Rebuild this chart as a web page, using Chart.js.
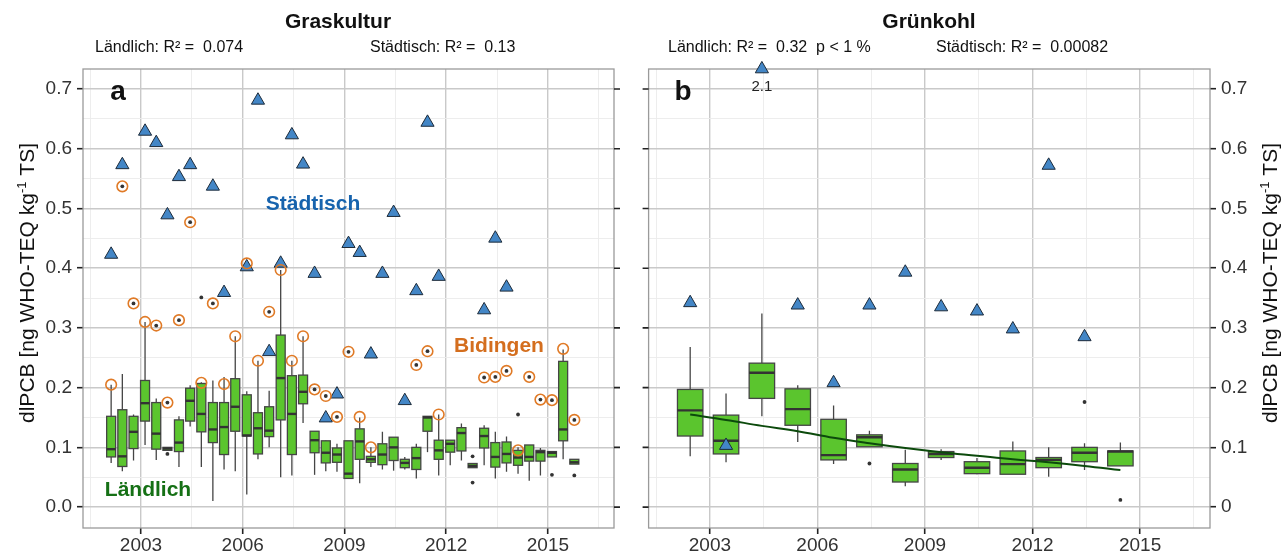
<!DOCTYPE html>
<html>
<head>
<meta charset="utf-8">
<script src="https://cdn.jsdelivr.net/npm/chart.js@4.4.1/dist/chart.umd.min.js"></script>
<style>
  html, body { margin: 0; padding: 0; background: #fff; }
  #wrap { position: relative; width: 1285px; height: 556px; }
  #cGras { position: absolute; left: 0; top: 0; width: 640px; height: 556px; }
  #cKohl { position: absolute; left: 640px; top: 0; width: 645px; height: 556px; }
</style>
</head>
<body>
<div id="wrap">
  <canvas id="cGras" width="640" height="556"></canvas>
  <canvas id="cKohl" width="645" height="556"></canvas>
</div>
<script>
// dlPCB in Graskultur (a) und Grünkohl (b)
const FONT = "'Liberation Sans', Arial, sans-serif";

const Y_MIN = -0.035, Y_MAX = 0.7335;
const X_MIN = 2001.29, X_MAX = 2016.95;

const xTickVals = [2001.5, 2003, 2004.5, 2006, 2007.5, 2009, 2010.5, 2012, 2013.5, 2015, 2016.5];
const xTickLabels = ['', '2003', '', '2006', '', '2009', '', '2012', '', '2015', ''];
const yTickVals = [0, 0.05, 0.1, 0.15, 0.2, 0.25, 0.3, 0.35, 0.4, 0.45, 0.5, 0.55, 0.6, 0.65, 0.7];
const yLabelsGras = ['0.0', '', '0.1', '', '0.2', '', '0.3', '', '0.4', '', '0.5', '', '0.6', '', '0.7'];
const yLabelsKohl = ['0', '', '0.1', '', '0.2', '', '0.3', '', '0.4', '', '0.5', '', '0.6', '', '0.7'];

// --- Graskultur: Ländlich (Boxplots je Drittel-Jahr)
const grasPos = [2002.12, 2002.45, 2002.78, 2003.12, 2003.45, 2003.78, 2004.12, 2004.45, 2004.78,
  2005.12, 2005.45, 2005.78, 2006.12, 2006.45, 2006.78, 2007.12, 2007.45, 2007.78,
  2008.12, 2008.45, 2008.78, 2009.12, 2009.45, 2009.78, 2010.12, 2010.45, 2010.78,
  2011.12, 2011.45, 2011.78, 2012.12, 2012.45, 2012.78, 2013.12, 2013.45, 2013.78,
  2014.12, 2014.45, 2014.78, 2015.12, 2015.45, 2015.78];
const grasLow = [0.074, 0.060, 0.078, 0.104, 0.079, 0.095, 0.067, 0.135, 0.067, 0.010, 0.063, 0.060, 0.021, 0.080,
  0.100, 0.050, 0.053, 0.141, 0.054, 0.060, 0.059, 0.048, 0.040, 0.067, 0.063, 0.061, 0.063, 0.048,
  0.092, 0.053, 0.070, 0.078, 0.066, 0.070, 0.048, 0.059, 0.056, 0.044, 0.053, 0.084, 0.080, 0.072];
const grasQ1 = [0.084, 0.068, 0.098, 0.144, 0.097, 0.095, 0.093, 0.144, 0.126, 0.108, 0.088, 0.127, 0.119, 0.089,
  0.118, 0.146, 0.088, 0.173, 0.091, 0.074, 0.075, 0.048, 0.080, 0.075, 0.071, 0.078, 0.066, 0.063,
  0.127, 0.080, 0.092, 0.094, 0.066, 0.099, 0.067, 0.074, 0.070, 0.077, 0.077, 0.084, 0.111, 0.072];
const grasMed = [0.097, 0.085, 0.126, 0.174, 0.123, 0.098, 0.108, 0.178, 0.156, 0.130, 0.134, 0.168, 0.120, 0.132,
  0.128, 0.216, 0.156, 0.193, 0.112, 0.091, 0.088, 0.056, 0.110, 0.080, 0.088, 0.100, 0.074, 0.082,
  0.150, 0.095, 0.106, 0.124, 0.069, 0.119, 0.084, 0.089, 0.083, 0.084, 0.092, 0.091, 0.130, 0.075];
const grasQ3 = [0.152, 0.163, 0.152, 0.212, 0.175, 0.100, 0.146, 0.199, 0.207, 0.175, 0.175, 0.215, 0.188, 0.158,
  0.168, 0.288, 0.220, 0.221, 0.127, 0.111, 0.099, 0.111, 0.131, 0.085, 0.106, 0.117, 0.080, 0.100,
  0.152, 0.112, 0.112, 0.133, 0.073, 0.132, 0.108, 0.109, 0.095, 0.104, 0.095, 0.093, 0.244, 0.080];
const grasHigh = [0.205, 0.223, 0.155, 0.310, 0.182, 0.100, 0.152, 0.204, 0.209, 0.212, 0.218, 0.286, 0.194, 0.245,
  0.195, 0.397, 0.245, 0.286, 0.127, 0.112, 0.106, 0.111, 0.150, 0.100, 0.126, 0.117, 0.084, 0.106,
  0.152, 0.155, 0.112, 0.140, 0.073, 0.137, 0.126, 0.118, 0.100, 0.104, 0.099, 0.093, 0.264, 0.080];

// Graskultur: Städtisch (Dreiecke)
const grasStadtX = [2002.12, 2002.45, 2003.12, 2003.45, 2003.78, 2004.12, 2004.45, 2005.12, 2005.45, 2006.12,
  2006.45, 2006.78, 2007.12, 2007.45, 2007.78, 2008.12, 2008.45, 2008.78, 2009.12, 2009.45,
  2009.78, 2010.12, 2010.45, 2010.78, 2011.12, 2011.45, 2011.78, 2013.12, 2013.45, 2013.78];
const grasStadtY = [0.423, 0.573, 0.629, 0.610, 0.489, 0.553, 0.573, 0.537, 0.359, 0.402,
  0.681, 0.260, 0.408, 0.623, 0.574, 0.391, 0.149, 0.189, 0.441, 0.426,
  0.256, 0.391, 0.493, 0.178, 0.362, 0.644, 0.386, 0.330, 0.450, 0.368];

// Graskultur: Bidingen (Kreise)
const grasBidX = [2002.12, 2002.45, 2002.78, 2003.12, 2003.45, 2003.78, 2004.12, 2004.45, 2004.78, 2005.12,
  2005.45, 2005.78, 2006.12, 2006.45, 2006.78, 2007.12, 2007.45, 2007.78, 2008.12, 2008.45,
  2008.78, 2009.12, 2009.45, 2009.78, 2011.12, 2011.45, 2011.78, 2013.12, 2013.45, 2013.78,
  2014.12, 2014.45, 2014.78, 2015.12, 2015.45, 2015.78];
const grasBidY = [0.205, 0.537, 0.341, 0.310, 0.304, 0.175, 0.313, 0.477, 0.208, 0.341,
  0.206, 0.286, 0.408, 0.245, 0.327, 0.397, 0.245, 0.286, 0.197, 0.186,
  0.151, 0.260, 0.151, 0.100, 0.238, 0.261, 0.155, 0.217, 0.218, 0.228,
  0.095, 0.218, 0.180, 0.179, 0.265, 0.146];

// Graskultur: Einzelwerte / Ausreißer (Punkte)
const grasDotX = [2002.45, 2002.78, 2003.45, 2003.78, 2004.12, 2004.45, 2005.12, 2006.78, 2008.12, 2008.45,
  2008.78, 2009.12, 2011.12, 2011.45, 2013.12, 2013.45, 2013.78, 2014.45, 2014.78, 2015.12,
  2015.78, 2003.78, 2004.78, 2012.78, 2012.78, 2014.12, 2015.12, 2015.78];
const grasDotY = [0.537, 0.341, 0.304, 0.175, 0.313, 0.477, 0.341, 0.327, 0.197, 0.186,
  0.151, 0.260, 0.238, 0.261, 0.217, 0.218, 0.228, 0.218, 0.180, 0.179,
  0.146, 0.089, 0.351, 0.085, 0.041, 0.155, 0.054, 0.053];

// --- Grünkohl: Ländlich (Boxplots je Jahr)
const kohlPos = [2002.45, 2003.45, 2004.45, 2005.45, 2006.45, 2007.45, 2008.45, 2009.45, 2010.45, 2011.45,
  2012.45, 2013.45, 2014.45];
const kohlLow = [0.085, 0.075, 0.152, 0.109, 0.072, 0.101, 0.035, 0.079, 0.055, 0.055, 0.051, 0.062, 0.069];
const kohlQ1 = [0.119, 0.089, 0.182, 0.137, 0.079, 0.101, 0.042, 0.083, 0.056, 0.055, 0.066, 0.076, 0.069];
const kohlMed = [0.162, 0.111, 0.225, 0.164, 0.087, 0.117, 0.063, 0.089, 0.066, 0.072, 0.079, 0.091, 0.093];
const kohlQ3 = [0.197, 0.154, 0.241, 0.198, 0.147, 0.121, 0.073, 0.093, 0.076, 0.094, 0.083, 0.100, 0.094];
const kohlHigh = [0.268, 0.190, 0.324, 0.204, 0.170, 0.128, 0.096, 0.097, 0.082, 0.110, 0.100, 0.107, 0.108];
const kohlTrend = [0.155, 0.146, 0.136, 0.127, 0.116, 0.107, 0.099, 0.092, 0.086, 0.080, 0.075, 0.069, 0.062];

const kohlStadtX = [2002.45, 2003.45, 2004.45, 2005.45, 2006.45, 2007.45, 2008.45, 2009.45, 2010.45, 2011.45,
  2012.45, 2013.45];
const kohlStadtY = [0.342, 0.103, 2.1, 0.338, 0.208, 0.338, 0.393, 0.335, 0.328, 0.298, 0.572, 0.285];

const kohlDotX = [2007.45, 2013.45, 2014.45];
const kohlDotY = [0.073, 0.176, 0.012];

const BOX_FILL = '#5bc52e';
const TRI_FILL = '#4386c6';
const ORANGE = '#e07a26';
const GRID_MAJOR = '#c9c9c9';
const GRID_MINOR = '#ebebeb';

function pts(xs, ys) {
  return xs.map((x, i) => ({ x: x, y: Math.min(ys[i], Y_MAX) }));
}

function drawYTitle(ctx, cx, cy) {
  const parts = [['dlPCB [ng WHO-TEQ kg', 21, 0], ['-1', 13, 8], [' TS]', 21, 0]];
  ctx.save();
  ctx.translate(cx, cy);
  ctx.rotate(-Math.PI / 2);
  ctx.textAlign = 'left';
  ctx.textBaseline = 'alphabetic';
  ctx.fillStyle = '#111';
  let total = 0;
  const widths = parts.map(p => {
    ctx.font = p[1] + 'px ' + FONT;
    const w = ctx.measureText(p[0]).width;
    total += w;
    return w;
  });
  let x = -total / 2;
  parts.forEach((p, i) => {
    ctx.font = p[1] + 'px ' + FONT;
    ctx.fillText(p[0], x, 7 - p[2]);
    x += widths[i];
  });
  ctx.restore();
}

function text(ctx, str, x, y, font, color, align) {
  ctx.font = font;
  ctx.fillStyle = color;
  ctx.textAlign = align || 'center';
  ctx.textBaseline = 'middle';
  ctx.fillText(str, x, y);
}

// Boxplots, Rahmen und Beschriftungen
function makeDeco(cfg) {
  return {
    id: 'deco',
    beforeDatasetsDraw(chart) {
      const { ctx, chartArea: a, scales: { x, y } } = chart;
      ctx.save();
      ctx.beginPath();
      ctx.rect(a.left, a.top, a.width, a.height);
      ctx.clip();
      for (let i = 0; i < cfg.pos.length; i++) {
        const cx = x.getPixelForValue(cfg.pos[i]);
        const hw = x.getPixelForValue(cfg.pos[i] + cfg.boxWidth / 2) - cx;
        const yl = y.getPixelForValue(cfg.low[i]);
        const y1 = y.getPixelForValue(cfg.q1[i]);
        const ym = y.getPixelForValue(cfg.med[i]);
        const y3 = y.getPixelForValue(cfg.q3[i]);
        const yh = y.getPixelForValue(cfg.high[i]);
        ctx.strokeStyle = '#454545';
        ctx.lineWidth = 1.3;
        ctx.beginPath();
        ctx.moveTo(cx, yl); ctx.lineTo(cx, y1);
        ctx.moveTo(cx, y3); ctx.lineTo(cx, yh);
        ctx.stroke();
        ctx.fillStyle = BOX_FILL;
        ctx.fillRect(cx - hw, y3, 2 * hw, y1 - y3);
        ctx.strokeRect(cx - hw, y3, 2 * hw, y1 - y3);
        ctx.strokeStyle = '#333';
        ctx.lineWidth = 2.4;
        ctx.beginPath();
        ctx.moveTo(cx - hw, ym); ctx.lineTo(cx + hw, ym);
        ctx.stroke();
      }
      ctx.restore();

      // Rahmen
      ctx.save();
      ctx.strokeStyle = '#9a9a9a';
      ctx.lineWidth = 1.3;
      ctx.strokeRect(a.left, a.top, a.width, a.height);
      // Ticks auf der Gegenseite
      ctx.strokeStyle = '#222';
      ctx.lineWidth = 1.6;
      ctx.beginPath();
      yTickVals.forEach((v, i) => {
        if (i % 2) return;
        const py = y.getPixelForValue(v);
        if (cfg.side === 'left') { ctx.moveTo(a.right, py); ctx.lineTo(a.right + 6, py); }
        else { ctx.moveTo(a.left - 6, py); ctx.lineTo(a.left, py); }
      });
      ctx.stroke();
      ctx.restore();
    },
    afterDraw(chart) {
      const { ctx, scales: { x, y } } = chart;
      ctx.save();
      text(ctx, cfg.title, cfg.titleX, 22, 'bold 21px ' + FONT, '#111');
      cfg.subs.forEach(s => text(ctx, s[0], s[1], 48, '16px ' + FONT, '#111', 'left'));
      text(ctx, cfg.letter, cfg.letterX, 92, 'bold 28px ' + FONT, '#111');
      (cfg.notes || []).forEach(n => text(ctx, n[0], n[1], n[2], 'bold 21px ' + FONT, n[3]));
      drawYTitle(ctx, cfg.yTitleX, 283);
      if (cfg.capped) {
        cfg.capped.xs.forEach((v, i) => {
          const val = cfg.capped.ys[i];
          if (val <= Y_MAX) return;
          text(ctx, val.toFixed(1), x.getPixelForValue(v), y.getPixelForValue(Y_MAX) + 18, '15px ' + FONT, '#222');
        });
      }
      ctx.restore();
    }
  };
}

function xScale() {
  return {
    type: 'linear', min: X_MIN, max: X_MAX,
    afterBuildTicks: s => { s.ticks = xTickVals.map(v => ({ value: v })); },
    afterFit: s => { s.height = 28; },
    ticks: {
      autoSkip: false, maxRotation: 0, minRotation: 0, padding: 0, color: '#333',
      font: { family: FONT, size: 19 },
      callback: (v, i) => xTickLabels[i]
    },
    grid: {
      color: c => (c.index % 2 ? GRID_MAJOR : GRID_MINOR),
      lineWidth: c => (c.index % 2 ? 1.4 : 0.9),
      tickColor: c => (c.index % 2 ? '#222' : 'rgba(0,0,0,0)'),
      tickWidth: 1.6, tickLength: 6
    },
    border: { display: false }
  };
}

function yScale(position, labels, width) {
  return {
    type: 'linear', position: position, min: Y_MIN, max: Y_MAX,
    afterBuildTicks: s => { s.ticks = yTickVals.map(v => ({ value: v })); },
    afterFit: s => { s.width = width; },
    ticks: {
      autoSkip: false, padding: 5, color: '#333',
      font: { family: FONT, size: 19 },
      callback: (v, i) => labels[i]
    },
    grid: {
      color: c => (c.index % 2 ? GRID_MINOR : GRID_MAJOR),
      lineWidth: c => (c.index % 2 ? 0.9 : 1.4),
      tickColor: c => (c.index % 2 ? 'rgba(0,0,0,0)' : '#222'),
      tickWidth: 1.6, tickLength: 6
    },
    border: { display: false }
  };
}

const dotSet = (xs, ys) => ({
  data: pts(xs, ys), pointRadius: 1.9, pointBackgroundColor: '#333', pointBorderWidth: 0
});
const bidSet = (xs, ys) => ({
  data: pts(xs, ys), pointRadius: 5.3, pointBorderColor: ORANGE, pointBorderWidth: 1.6,
  pointBackgroundColor: 'rgba(0,0,0,0)'
});
const triSet = (xs, ys) => ({
  data: pts(xs, ys), pointStyle: 'triangle', pointRadius: 7.6, pointBackgroundColor: TRI_FILL,
  pointBorderColor: '#1d2b3a', pointBorderWidth: 1, clip: false
});

const common = {
  responsive: false, animation: false, devicePixelRatio: 1, events: [],
  plugins: { legend: { display: false }, tooltip: { enabled: false } }
};

new Chart(document.getElementById('cGras'), {
  type: 'scatter',
  data: {
    datasets: [
      dotSet(grasDotX, grasDotY),
      bidSet(grasBidX, grasBidY),
      triSet(grasStadtX, grasStadtY)
    ]
  },
  options: Object.assign({}, common, {
    layout: { padding: { left: 0, right: 26, top: 69, bottom: 0 } },
    scales: { x: xScale(), y: yScale('left', yLabelsGras, 83) }
  }),
  plugins: [makeDeco({
    pos: grasPos, low: grasLow, q1: grasQ1, med: grasMed, q3: grasQ3, high: grasHigh, boxWidth: 0.265,
    side: 'left', title: 'Graskultur', titleX: 338, letter: 'a', letterX: 118, yTitleX: 27,
    subs: [['Ländlich: R² =  0.074', 95], ['Städtisch: R² =  0.13', 370]],
    notes: [['Städtisch', 313, 204, '#1763ad'], ['Bidingen', 499, 346, '#d46e1e'], ['Ländlich', 148, 490, '#157015']]
  })]
});

new Chart(document.getElementById('cKohl'), {
  type: 'scatter',
  data: {
    datasets: [
      dotSet(kohlDotX, kohlDotY),
      triSet(kohlStadtX, kohlStadtY),
      {
        data: pts(kohlPos, kohlTrend), showLine: true, pointRadius: 0, borderColor: '#0c4a0c',
        borderWidth: 2, tension: 0.4
      }
    ]
  },
  options: Object.assign({}, common, {
    layout: { padding: { left: 5, right: 0, top: 69, bottom: 0 } },
    scales: { x: xScale(), y: yScale('right', yLabelsKohl, 75) }
  }),
  plugins: [makeDeco({
    pos: kohlPos, low: kohlLow, q1: kohlQ1, med: kohlMed, q3: kohlQ3, high: kohlHigh, boxWidth: 0.71,
    side: 'right', title: 'Grünkohl', titleX: 289, letter: 'b', letterX: 43, yTitleX: 630,
    subs: [['Ländlich: R² =  0.32  p < 1 %', 28], ['Städtisch: R² =  0.00082', 296]],
    capped: { xs: kohlStadtX, ys: kohlStadtY }
  })]
});
</script>
</body>
</html>
